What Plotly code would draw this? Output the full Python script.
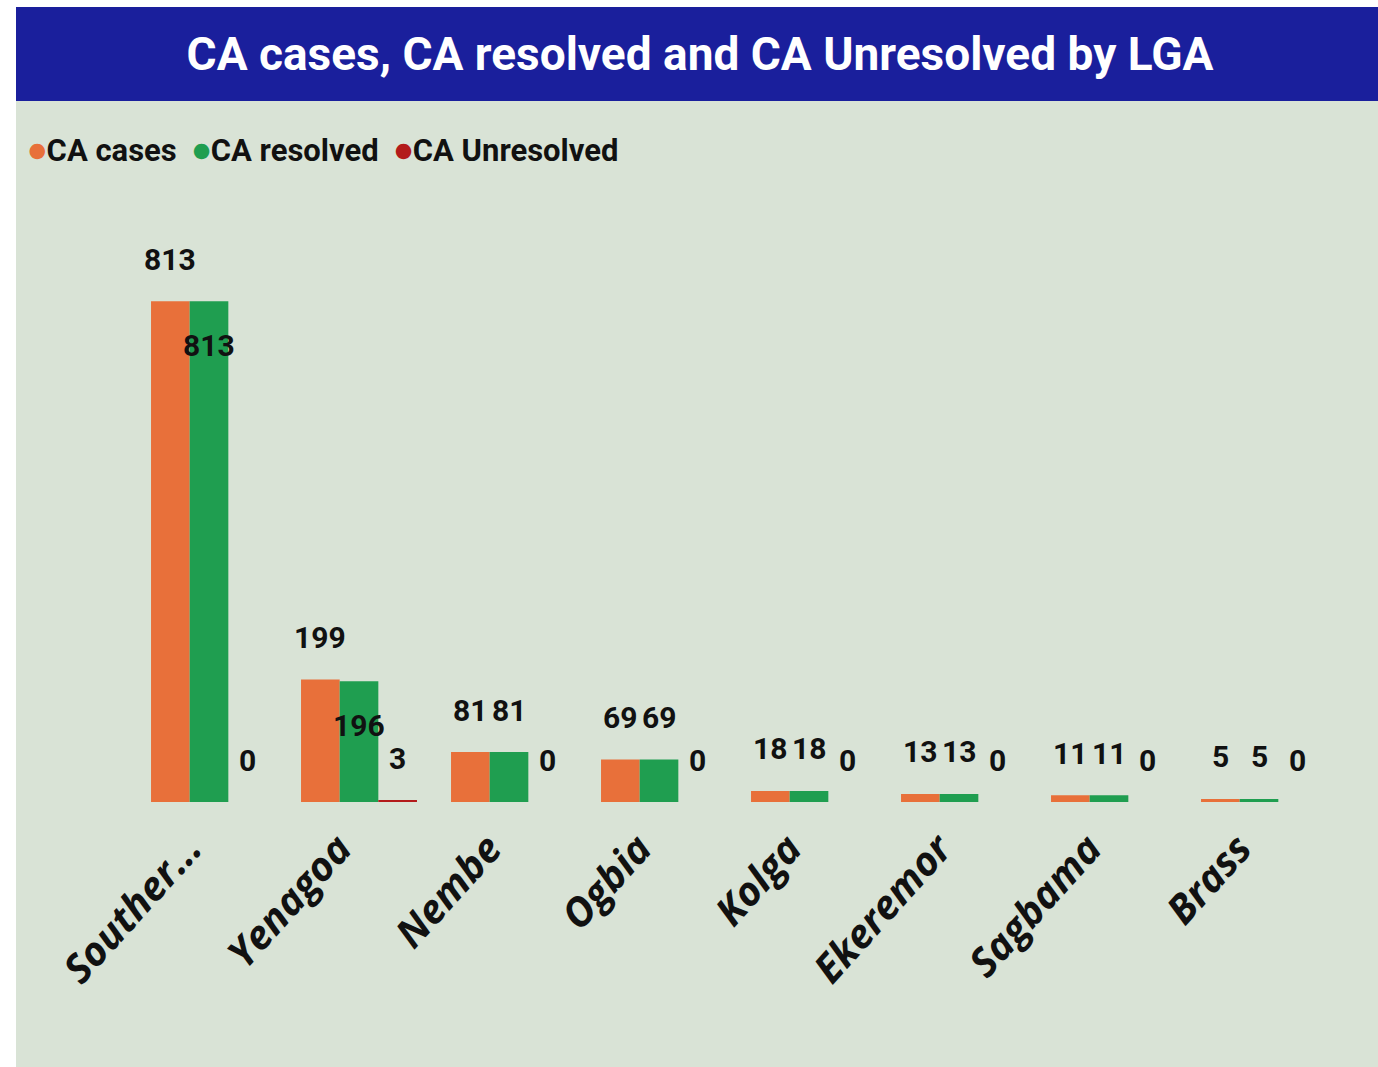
"""CA cases, CA resolved and CA Unresolved by LGA — grouped bar chart."""

import plotly.graph_objects as go

# ━━━ DATA ━━━━━━━━━━━━━━━━━━━━━━━━━━━━━━━━━━━━━━━━━━━━━━━━━━━━

LGAS = ["Southern Ijaw", "Yenagoa", "Nembe", "Ogbia", "Kolga",
        "Ekeremor", "Sagbama", "Brass"]
CA_CASES = [813, 199, 81, 69, 18, 13, 11, 5]
CA_RESOLVED = [813, 196, 81, 69, 18, 13, 11, 5]
CA_UNRESOLVED = [0, 3, 0, 0, 0, 0, 0, 0]

SERIES = [
    ("CA cases", CA_CASES, "#E8703A"),
    ("CA resolved", CA_RESOLVED, "#1F9E50"),
    ("CA Unresolved", CA_UNRESOLVED, "#B31B1B"),
]

# ━━━ LAYOUT CONSTANTS (pixels) ━━━━━━━━━━━━━━━━━━━━━━━━━━━━━━

W, H = 1378, 1067
PLOT_L, PLOT_R = 134, 1334
PLOT_T, PLOT_B = 200, 802
PANEL_L, BAR_T, BAR_B = 16, 7, 101
Y_MAX = (PLOT_B - PLOT_T) / 0.616

FONT = "Roboto, Lato, sans-serif"

pw = PLOT_R - PLOT_L
ph = PLOT_B - PLOT_T


def px_x(p):
    return (p - PLOT_L) / pw


def px_y(p):
    return (PLOT_B - p) / ph


def tick_label(name):
    return name[:7] + "..." if len(name) > 10 else name


fig = go.Figure()

for name, vals, color in SERIES:
    fig.add_trace(go.Bar(
        x=LGAS, y=vals, name=name, marker_color=color,
        marker_line_width=0, showlegend=False,
    ))

# data labels, Power BI style
group_w = pw / len(LGAS) * (1 - 0.227)
bar_w = group_w / len(SERIES)
for si, (name, vals, color) in enumerate(SERIES):
    shift = (si - (len(SERIES) - 1) / 2) * bar_w
    for lga, v in zip(LGAS, vals):
        inside = name == "CA resolved" and v > 150
        fig.add_annotation(
            x=lga, y=v, xref="x", yref="y", text=str(v), showarrow=False,
            xshift=shift, yshift=-44 if inside else 42,
            font=dict(family=FONT, size=30, color="#111111", weight="bold"),
        )

# legend as a single line of text with round markers
legend_text = "  ".join(
    f"<span style='color:{c}'>●</span>{n}" for n, _, c in SERIES
)
fig.add_annotation(
    text=legend_text, xref="paper", yref="paper", showarrow=False,
    x=px_x(26), xanchor="left", y=px_y(150), yanchor="middle",
    font=dict(family=FONT, size=31, color="#111111", weight="bold"),
)

# panel background and title bar
fig.add_shape(type="rect", xref="paper", yref="paper", layer="below",
              x0=px_x(PANEL_L), x1=px_x(W), y0=px_y(H), y1=px_y(BAR_B),
              fillcolor="#D9E3D6", line_width=0)
fig.add_shape(type="rect", xref="paper", yref="paper", layer="below",
              x0=px_x(PANEL_L), x1=px_x(W), y0=px_y(BAR_B), y1=px_y(BAR_T),
              fillcolor="#1A1F9C", line_width=0)

fig.update_layout(
    width=W, height=H,
    margin=dict(l=PLOT_L, r=W - PLOT_R, t=PLOT_T, b=H - PLOT_B),
    paper_bgcolor="white",
    plot_bgcolor="rgba(0,0,0,0)",
    barmode="group",
    bargap=0.227,
    bargroupgap=0,
    showlegend=False,
    title=dict(
        text="CA cases, CA resolved and CA Unresolved by LGA",
        x=700 / W, xanchor="center", y=1 - 54 / H, yanchor="middle",
        font=dict(family=FONT, size=46, color="white", weight="bold"),
    ),
    xaxis=dict(
        tickvals=LGAS, ticktext=[tick_label(n) for n in LGAS],
        tickangle=-48, showgrid=False, showline=False, ticks="",
        ticklabelshift=-20, ticklabelstandoff=14,
        tickfont=dict(family="Open Sans, sans-serif", size=40, color="#111111",
                      weight="bold", style="italic"),
    ),
    yaxis=dict(range=[0, Y_MAX], visible=False, showgrid=False),
)

# drop the default page margin so the figure fills the window exactly
fig.write_html(
    "out.html",
    config={"displayModeBar": False},
    post_script="document.body.style.margin='0';document.body.style.overflow='hidden';",
)
